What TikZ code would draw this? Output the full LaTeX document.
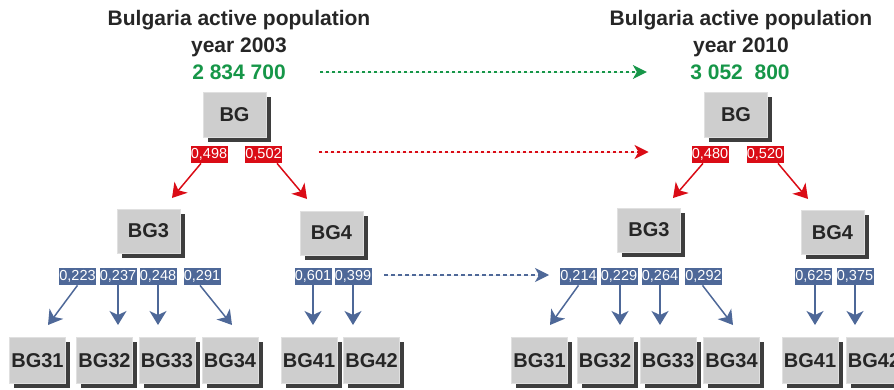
\documentclass[tikz,border=0pt]{standalone}
\usepackage{fontspec}
\setmainfont{Liberation Sans}
\usetikzlibrary{shadows,arrows.meta}
\definecolor{boxgray}{RGB}{206,206,206}
\definecolor{shadowgray}{RGB}{62,62,62}
\definecolor{txt}{RGB}{38,38,38}
\definecolor{grn}{RGB}{22,150,72}
\definecolor{rd}{RGB}{218,12,22}
\definecolor{bl}{RGB}{78,104,152}
\begin{document}
\begin{tikzpicture}[x=1pt,y=-1pt,
 box/.style={fill=boxgray, draw=white!88!black, line width=0.6pt, minimum width=63pt, minimum height=44pt, inner sep=0pt, text=txt,
   font=\bfseries\fontsize{20}{20}\selectfont,
   drop shadow={shadow xshift=4.5pt, shadow yshift=-4.5pt, fill=shadowgray, opacity=1}},
 leaf/.style={box, minimum width=56pt, minimum height=46pt},
 lab/.style={draw=white, line width=0.7pt, text=white, inner sep=1pt, minimum height=18pt, minimum width=37pt,
   font=\fontsize{14.5}{14.5}\selectfont},
 rlab/.style={lab, fill=rd},
 blab/.style={lab, fill=bl},
 ttl/.style={align=center, text=txt, font=\bfseries\fontsize{21}{27}\selectfont},
 num/.style={text=grn, font=\bfseries\fontsize{21}{21}\selectfont},
 rarr/.style={draw=rd, line width=1.5pt, -{Stealth[length=14pt,width=17pt,inset=4pt]}},
 barr/.style={draw=bl, line width=1.5pt, -{Stealth[length=14pt,width=17pt,inset=4pt]}},
 dotarr/.style={line width=1.3pt, dash pattern=on 3pt off 3pt, -{Stealth[length=14pt,width=14pt,inset=4pt]}}
]
\useasboundingbox (0,0) rectangle (894,389);
\clip (0,0) rectangle (894,389);

% ---------- left: 2003 ----------
\node[ttl] (tL) at (239,33.5) {Bulgaria active population\\year 2003};
\node[num] (nL) at (239,72) {2 834 700};
\node[box, minimum height=45pt] (BGL) at (234.5,114.5) {BG};
\node[rlab] (r1) at (209,154) {0,498};
\node[rlab] (r2) at (263.5,154) {0,502};
\node[box] (BG3L) at (148.5,231) {BG3};
\node[box] (BG4L) at (331.5,233) {BG4};
\node[blab] (b1) at (77.5,276) {0,223};
\node[blab] (b2) at (118,276) {0,237};
\node[blab] (b3) at (158,276) {0,248};
\node[blab] (b4) at (202,276) {0,291};
\node[blab] (b5) at (313,276) {0,601};
\node[blab] (b6) at (353,276) {0,399};
\node[leaf] (L31) at (37.5,360.5) {BG31};
\node[leaf] (L32) at (104.5,360.5) {BG32};
\node[leaf] (L33) at (167,360.5) {BG33};
\node[leaf] (L34) at (230,360.5) {BG34};
\node[leaf] (L41) at (309,360.5) {BG41};
\node[leaf] (L42) at (371.5,360.5) {BG42};

\coordinate (e1) at (172,198);
\coordinate (e2) at (307,199);
\draw[rarr] ([xshift=-8pt]r1.south) -- (e1);
\draw[rarr] ([xshift=13.5pt]r2.south) -- (e2);
\coordinate (f1) at (48,325);
\coordinate (f2) at (118,325);
\coordinate (f3) at (158,325);
\coordinate (f4) at (232,325);
\coordinate (f5) at (313,325);
\coordinate (f6) at (353,325);
\draw[barr] (b1.south) -- (f1);
\draw[barr] (b2.south) -- (f2);
\draw[barr] (b3.south) -- (f3);
\draw[barr] ([xshift=-2pt]b4.south) -- (f4);
\draw[barr] (b5.south) -- (f5);
\draw[barr] (b6.south) -- (f6);

% ---------- right: 2010 ----------
\node[ttl] (tR) at (741,33.5) {Bulgaria active population\\year 2010};
\node[num] (nR) at (740,72) {3 052\ \ 800};
\node[box, minimum height=45pt] (BGR) at (736,114.5) {BG};
\node[rlab] (r3) at (710,154) {0,480};
\node[rlab] (r4) at (765,154) {0,520};
\node[box] (BG3R) at (649,230) {BG3};
\node[box] (BG4R) at (832.5,232.5) {BG4};
\node[blab] (c1) at (578.5,276) {0,214};
\node[blab] (c2) at (619,276) {0,229};
\node[blab] (c3) at (660,276) {0,264};
\node[blab] (c4) at (703.5,276) {0,292};
\node[blab] (c5) at (813.5,276) {0,625};
\node[blab] (c6) at (855,276) {0,375};
\node[leaf] (R31) at (539.5,360.5) {BG31};
\node[leaf] (R32) at (605,360.5) {BG32};
\node[leaf] (R33) at (668,360.5) {BG33};
\node[leaf] (R34) at (731.5,360.5) {BG34};
\node[leaf] (R41) at (810,360.5) {BG41};
\node[leaf] (R42) at (874,360.5) {BG42};

\coordinate (e3) at (673,198);
\coordinate (e4) at (808,199);
\draw[rarr] ([xshift=-7pt]r3.south) -- (e3);
\draw[rarr] ([xshift=13pt]r4.south) -- (e4);
\coordinate (g1) at (550,325);
\coordinate (g2) at (620,325);
\coordinate (g3) at (660,325);
\coordinate (g4) at (733,325);
\coordinate (g5) at (815,325);
\coordinate (g6) at (855,325);
\draw[barr] (c1.south) -- (g1);
\draw[barr] ([xshift=1pt]c2.south) -- (g2);
\draw[barr] (c3.south) -- (g3);
\draw[barr] ([xshift=-1pt]c4.south) -- (g4);
\draw[barr] ([xshift=1.5pt]c5.south) -- (g5);
\draw[barr] (c6.south) -- (g6);

% ---------- dotted connectors between years ----------
\draw[dotarr, draw=grn, fill=grn] ([xshift=31pt]nL.east) -- ([xshift=-40pt]nR.west);
\draw[dotarr, draw=rd, fill=rd] ([xshift=36pt,yshift=2pt]r2.east) -- ([xshift=-42pt,yshift=2pt]r3.west);
\draw[dotarr, draw=bl, fill=bl, dash pattern=on 4pt off 3pt] ([xshift=12pt,yshift=1pt]b6.east) -- ([xshift=-10pt,yshift=1pt]c1.west);
\end{tikzpicture}
\end{document}
